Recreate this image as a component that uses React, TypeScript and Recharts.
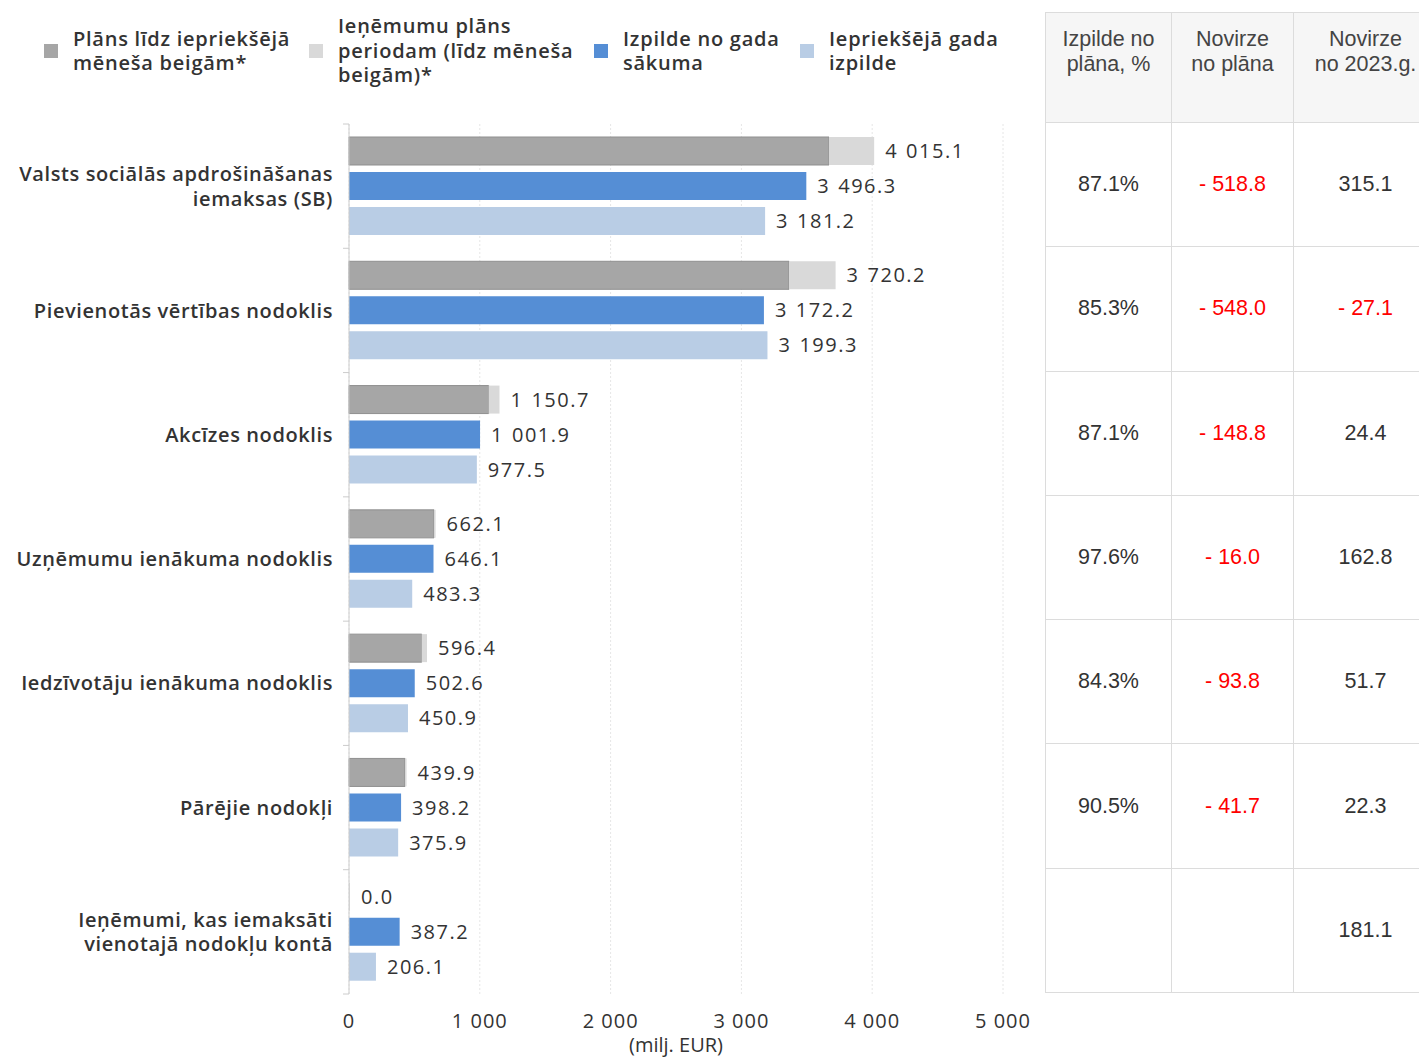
import React from 'react';
import { BarChart, Bar, XAxis, YAxis, CartesianGrid, LabelList } from 'recharts';

const categories = [
  'Valsts sociālās apdrošināšanas\niemaksas (SB)',
  'Pievienotās vērtības nodoklis',
  'Akcīzes nodoklis',
  'Uzņēmumu ienākuma nodoklis',
  'Iedzīvotāju ienākuma nodoklis',
  'Pārējie nodokļi',
  'Ieņēmumi, kas iemaksāti\nvienotajā nodokļu kontā',
];

// plan to end of previous month (dark grey)
const planPrevMonth = [3670, 3364, 1068, 650, 556, 428, 0];
// revenue plan for the period (light grey, labelled)
const planPeriod = [4015.1, 3720.2, 1150.7, 662.1, 596.4, 439.9, 0.0];
const actual = [3496.3, 3172.2, 1001.9, 646.1, 502.6, 398.2, 387.2];
const prevYear = [3181.2, 3199.3, 977.5, 483.3, 450.9, 375.9, 206.1];

const xTicks = [0, 1000, 2000, 3000, 4000, 5000];

const legendNames = [
  'Plāns līdz iepriekšējā\nmēneša beigām*',
  'Ieņēmumu plāns\nperiodam (līdz mēneša\nbeigām)*',
  'Izpilde no gada\nsākuma',
  'Iepriekšējā gada\nizpilde',
];

const tableHeaders = ['Izpilde no\nplāna, %', 'Novirze\nno plāna', 'Novirze\nno 2023.g.'];
const pctOfPlan = ['87.1%', '85.3%', '87.1%', '97.6%', '84.3%', '90.5%', ''];
const diffPlan = [-518.8, -548.0, -148.8, -16.0, -93.8, -41.7, null];
const diffPrevYear = [315.1, -27.1, 24.4, 162.8, 51.7, 22.3, 181.1];

const COLORS = {
  planPrev: '#a6a6a6',
  planPeriod: '#d9d9d9',
  actual: '#558ed5',
  prevYear: '#b9cde5',
};
const legendColors = [COLORS.planPrev, COLORS.planPeriod, COLORS.actual, COLORS.prevYear];

const data = categories.map((name, i) => ({
  name,
  planPrev: planPrevMonth[i],
  planRest: Math.max(planPeriod[i] - planPrevMonth[i], 0),
  plan: planPeriod[i],
  actual: actual[i],
  prevYear: prevYear[i],
}));

const CHART_W = 1040;
const CHART_H = 1057;
const TOP = 124;
const XAXIS_H = 63;
const YAXIS_W = 349;
const BAND = (CHART_H - TOP - XAXIS_H) / categories.length;

const fmt = (v: number) => {
  const [int, dec] = Math.abs(v).toFixed(1).split('.');
  const withSep = int.replace(/\B(?=(\d{3})+(?!\d))/g, ' ');
  return (v < 0 ? '-' : '') + withSep + '.' + dec;
};

const CHART_FONT = '"Open Sans", "DejaVu Sans", sans-serif';

const ValueLabel = (props: any) => {
  const { x, y, width, height, value } = props;
  const parts = fmt(Number(value)).split(' ');
  return (
    <text
      x={Number(x) + Number(width) + 11}
      y={Number(y) + Number(height) / 2}
      dy="0.36em"
      fill="#333"
      fontSize={20}
      letterSpacing={1.5}
      fontFamily={CHART_FONT}
    >
      {parts.map((p, i) => (
        <tspan key={i} dx={i > 0 ? 8 : 0}>
          {p}
        </tspan>
      ))}
    </text>
  );
};

const CategoryTick = (props: any) => {
  const { y, payload, index } = props;
  const lines = String(payload.value).split('\n');
  const lh = 24.5;
  const tx = YAXIS_W - 16;
  const startY = y - ((lines.length - 1) * lh) / 2;
  return (
    <g>
      <line x1={YAXIS_W - 6} x2={YAXIS_W} y1={y - BAND / 2} y2={y - BAND / 2} stroke="#ccc" />
      {index === categories.length - 1 && (
        <line x1={YAXIS_W - 6} x2={YAXIS_W} y1={y + BAND / 2} y2={y + BAND / 2} stroke="#ccc" />
      )}
      <text
        x={tx}
        y={startY}
        textAnchor="end"
        fill="#333"
        fontSize={20}
        fontWeight={600}
        letterSpacing={0.6}
        fontFamily={CHART_FONT}
      >
        {lines.map((l, i) => (
          <tspan key={i} x={tx} dy={i === 0 ? '0.36em' : lh}>
            {l}
          </tspan>
        ))}
      </text>
    </g>
  );
};

const Legend = () => {
  const positions = [44, 309, 594, 800];
  return (
    <>
      {legendNames.map((name, i) => {
        const lines = name.split('\n');
        return (
          <div
            key={i}
            style={{
              position: 'absolute',
              left: positions[i],
              top: 51 - (lines.length * 24.5) / 2,
              display: 'flex',
              alignItems: 'center',
              fontFamily: CHART_FONT,
              fontSize: 20,
              letterSpacing: 0.75,
              lineHeight: '24.5px',
              color: '#333',
              fontWeight: 600,
            }}
          >
            <div style={{ width: 14, height: 14, background: legendColors[i], marginRight: 15 }} />
            <div style={{ whiteSpace: 'pre' }}>{name}</div>
          </div>
        );
      })}
    </>
  );
};

const Table = () => {
  const colW = [126, 122, 144];
  const cell: React.CSSProperties = {
    border: '1px solid #dcdcdc',
    textAlign: 'center',
    fontFamily: '"Liberation Sans", Arial, sans-serif',
    fontSize: 21.5,
    padding: 0,
  };
  const signed = (v: number) => (v < 0 ? '- ' + fmt(-v) : fmt(v));
  return (
    <table
      style={{
        position: 'absolute',
        left: 1045,
        top: 12,
        borderCollapse: 'collapse',
        tableLayout: 'fixed',
        width: 392,
      }}
    >
      <colgroup>
        {colW.map((w, i) => (
          <col key={i} style={{ width: w }} />
        ))}
      </colgroup>
      <thead>
        <tr style={{ height: 110 }}>
          {tableHeaders.map((h, i) => (
            <th
              key={i}
              style={{
                ...cell,
                background: '#f6f6f6',
                color: '#444',
                fontWeight: 'normal',
                verticalAlign: 'top',
                paddingTop: 14,
                lineHeight: '25px',
                whiteSpace: 'pre',
              }}
            >
              {h}
            </th>
          ))}
        </tr>
      </thead>
      <tbody>
        {categories.map((_, i) => (
          <tr key={i} style={{ height: BAND }}>
            <td style={{ ...cell, color: '#333' }}>{pctOfPlan[i]}</td>
            <td style={{ ...cell, color: '#ff0000' }}>
              {diffPlan[i] === null ? '' : signed(diffPlan[i] as number)}
            </td>
            <td style={{ ...cell, color: diffPrevYear[i] < 0 ? '#ff0000' : '#333' }}>
              {signed(diffPrevYear[i])}
            </td>
          </tr>
        ))}
      </tbody>
    </table>
  );
};

export default function App() {
  return (
    <div
      style={{
        position: 'absolute',
        left: 0,
        top: 0,
        width: 1419,
        height: 1057,
        background: '#fff',
        overflow: 'hidden',
      }}
    >
      <Legend />
      <div style={{ position: 'absolute', left: 0, top: 0 }}>
        <BarChart
          width={CHART_W}
          height={CHART_H}
          data={data}
          layout="vertical"
          margin={{ top: TOP, right: 37, bottom: 0, left: 0 }}
          barCategoryGap={13}
          barGap={7}
        >
          <CartesianGrid horizontal={false} stroke="#e6e6e6" strokeDasharray="2 2" />
          <XAxis
            type="number"
            domain={[0, 5000]}
            ticks={xTicks}
            height={XAXIS_H}
            axisLine={false}
            tickLine={false}
            tick={{ fill: '#333', fontSize: 20, fontFamily: CHART_FONT, letterSpacing: 1 }}
            tickFormatter={(v: number) => String(v).replace(/\B(?=(\d{3})+(?!\d))/g, ' ')}
            tickMargin={14}
            label={{
              value: '(milj. EUR)',
              position: 'insideBottom',
              offset: 5,
              fill: '#333',
              fontSize: 20,
              fontFamily: CHART_FONT,
            }}
          />
          <YAxis
            type="category"
            dataKey="name"
            width={YAXIS_W}
            interval={0}
            axisLine={{ stroke: '#ccc' }}
            tickLine={false}
            tick={<CategoryTick />}
          />
          <Bar dataKey="planPrev" stackId="plan" fill={COLORS.planPrev} stroke="#8f8f8f" strokeWidth={1} isAnimationActive={false} />
          <Bar dataKey="planRest" stackId="plan" fill={COLORS.planPeriod} minPointSize={1} isAnimationActive={false}>
            <LabelList dataKey="plan" content={<ValueLabel />} />
          </Bar>
          <Bar dataKey="actual" fill={COLORS.actual} isAnimationActive={false}>
            <LabelList dataKey="actual" content={<ValueLabel />} />
          </Bar>
          <Bar dataKey="prevYear" fill={COLORS.prevYear} isAnimationActive={false}>
            <LabelList dataKey="prevYear" content={<ValueLabel />} />
          </Bar>
        </BarChart>
      </div>
      <Table />
    </div>
  );
}
